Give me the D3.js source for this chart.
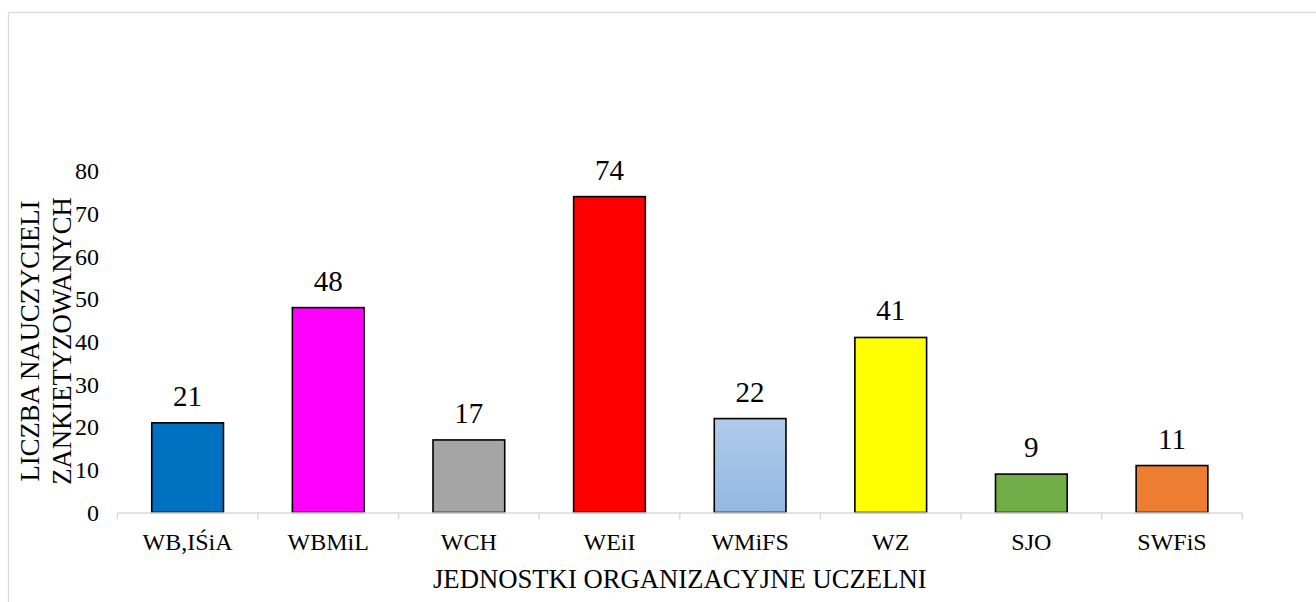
<!DOCTYPE html>
<html><head><meta charset="utf-8">
<script src="https://cdn.jsdelivr.net/npm/d3@7"></script>
<style>
html,body{margin:0;padding:0;background:#fff;}
svg{display:block;font-family:"Liberation Serif","Times New Roman",serif;}
</style></head>
<body>
<svg id="c" width="1316" height="602"></svg>
<script>
const categories = ["WB,IŚiA","WBMiL","WCH","WEiI","WMiFS","WZ","SJO","SWFiS"];
const values = [21,48,17,74,22,41,9,11];
const colors = ["#0070C0","#FF00FF","#A5A5A5","#FF0000","url(#gradBlue)","#FFFF00","#70AD47","#ED7D31"];
const yTicks = [0,10,20,30,40,50,60,70,80];
const yTitle = ["LICZBA NAUCZYCIELI","ZANKIETYZOWANYCH"];
const xTitle = "JEDNOSTKI ORGANIZACYJNE UCZELNI";

const svg = d3.select("#c");
const defs = svg.append("defs");
const g = defs.append("linearGradient").attr("id","gradBlue").attr("x1",0).attr("y1",0).attr("x2",0).attr("y2",1);
g.append("stop").attr("offset","0%").attr("stop-color","#B1CBEA");
g.append("stop").attr("offset","100%").attr("stop-color","#93B8E2");

// outer border
svg.append("rect").attr("x",8.5).attr("y",12.5).attr("width",1400).attr("height",700)
  .attr("fill","none").attr("stroke","#d9d9d9").attr("stroke-width",1.3);

const x = d3.scaleBand().domain(categories).range([117.3,1242.3]).paddingInner(0.49).paddingOuter(0.245);
const y = d3.scaleLinear().domain([0,80]).range([512.5,171]);

// y tick labels
svg.append("g").selectAll("text").data(yTicks).join("text")
  .attr("x",99).attr("y",d=>y(d)).attr("dy","0.34em").attr("text-anchor","end")
  .attr("font-size",24).attr("fill","#000").text(d=>d);

// bars
svg.append("g").selectAll("rect").data(values).join("rect")
  .attr("x",(d,i)=>x(categories[i])).attr("y",d=>y(d))
  .attr("width",x.bandwidth()).attr("height",d=>y(0)-y(d))
  .attr("fill",(d,i)=>colors[i]).attr("stroke","#000").attr("stroke-width",1.6);

// x axis
const step = x.step();
const x0 = x.range()[0];
svg.append("line").attr("x1",x0).attr("x2",x.range()[1]).attr("y1",y(0)+0.5).attr("y2",y(0)+0.5)
  .attr("stroke","#d9d9d9").attr("stroke-width",1.5);
svg.append("g").selectAll("line").data(d3.range(categories.length+1)).join("line")
  .attr("x1",i=>x0+i*step).attr("x2",i=>x0+i*step).attr("y1",y(0)+0.5).attr("y2",y(0)+7)
  .attr("stroke","#d9d9d9").attr("stroke-width",1.5);

// category labels
svg.append("g").selectAll("text").data(categories).join("text")
  .attr("x",d=>x(d)+x.bandwidth()/2).attr("y",550).attr("text-anchor","middle")
  .attr("font-size",24).attr("fill","#000").text(d=>d);

// data labels
svg.append("g").selectAll("text").data(values).join("text")
  .attr("x",(d,i)=>x(categories[i])+x.bandwidth()/2).attr("y",d=>y(d)-17).attr("text-anchor","middle")
  .attr("font-size",29).attr("fill","#000").text(d=>d);

// y title
svg.append("g").selectAll("text").data(yTitle).join("text")
  .attr("transform",(d,i)=>`translate(${39+i*31.5},341) rotate(-90)`)
  .attr("text-anchor","middle").attr("font-size",26.7).attr("fill","#000").text(d=>d);

// x title
svg.append("text").attr("x",(x.range()[0]+x.range()[1])/2).attr("y",588).attr("text-anchor","middle")
  .attr("font-size",26.7).attr("fill","#000").text(xTitle);
</script>
</body></html>
